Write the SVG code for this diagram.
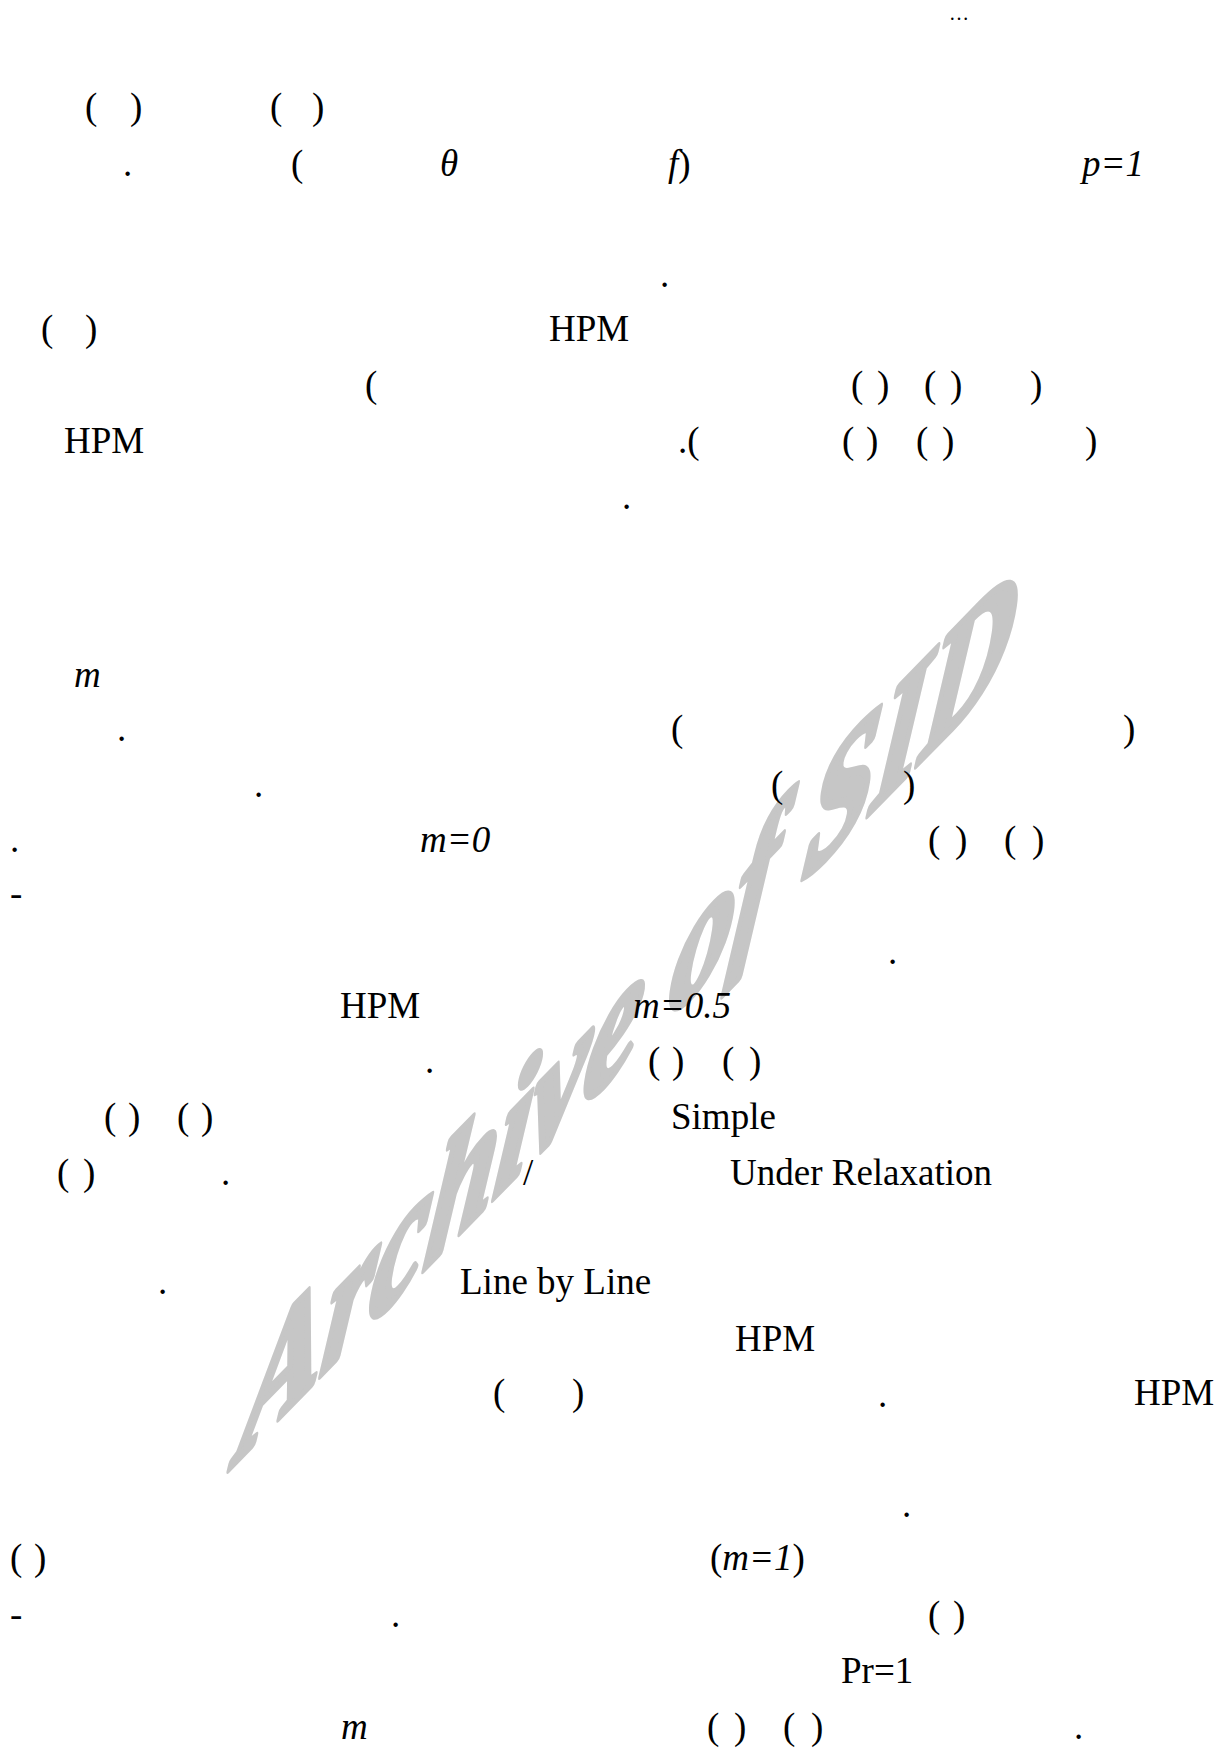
<svg xmlns="http://www.w3.org/2000/svg" width="1227" height="1748" viewBox="0 0 1227 1748">
<style>
text{font-family:"Liberation Serif","Times New Roman",serif;font-size:37px;fill:#000}
.i{font-style:italic}
.wm{font-family:"Liberation Serif","Times New Roman",serif;font-weight:bold;font-style:italic;font-size:100px;fill:#c6c6c6;stroke:#c6c6c6;stroke-width:5;stroke-linejoin:round}
</style>
<rect width="1227" height="1748" fill="#fff"/>
<g id="watermark">
<text class="wm" transform="matrix(1.24 -1.27 -0.24 1.72 236 1462)" x="0" y="0">Archive of SID</text>
</g>
<g id="page-text">
<text x="949" y="20" style="font-size:20px">…</text>
<text x="85 108 130" y="119">( )</text>
<text x="270 291 312" y="119">( )</text>
<text x="123" y="176">.</text>
<text x="291" y="176">(</text>
<text x="440" y="176" class="i">θ</text>
<text x="668" y="176"><tspan class="i">f</tspan>)</text>
<text x="1082" y="176" class="i">p=1</text>
<text x="660" y="287">.</text>
<text x="41 63 85" y="341">( )</text>
<text x="549" y="341">HPM</text>
<text x="365" y="397">(</text>
<text x="851 864 877" y="397">( )</text>
<text x="924 937 950" y="397">( )</text>
<text x="1030" y="397">)</text>
<text x="64" y="453">HPM</text>
<text x="678" y="453">.(</text>
<text x="842 854 866" y="453">( )</text>
<text x="916 929 942" y="453">( )</text>
<text x="1085" y="453">)</text>
<text x="622" y="509">.</text>
<text x="74" y="687" class="i">m</text>
<text x="117" y="741">.</text>
<text x="671" y="741">(</text>
<text x="1123" y="741">)</text>
<text x="254" y="797">.</text>
<text x="771" y="797">(</text>
<text x="903" y="797">)</text>
<text x="10" y="852">.</text>
<text x="420" y="852" class="i">m=0</text>
<text x="928 941 955" y="852">( )</text>
<text x="1004 1018 1032" y="852">( )</text>
<text x="10" y="906">-</text>
<text x="888" y="964">.</text>
<text x="340" y="1018">HPM</text>
<text x="633" y="1018" class="i">m=0.5</text>
<text x="425" y="1073">.</text>
<text x="648 660 672" y="1073">( )</text>
<text x="722 735 749" y="1073">( )</text>
<text x="104 116 128" y="1129">( )</text>
<text x="177 189 201" y="1129">( )</text>
<text x="671" y="1129">Simple</text>
<text x="57 70 83" y="1185">( )</text>
<text x="221" y="1185">.</text>
<text x="523" y="1185">/</text>
<text x="730" y="1185">Under Relaxation</text>
<text x="158" y="1294">.</text>
<text x="460" y="1294">Line by Line</text>
<text x="735" y="1351">HPM</text>
<text x="493 530 572" y="1405">( )</text>
<text x="878" y="1407">.</text>
<text x="1134" y="1405">HPM</text>
<text x="902" y="1517">.</text>
<text x="10 22 34" y="1570">( )</text>
<text x="710" y="1570">(<tspan class="i">m=1</tspan>)</text>
<text x="10" y="1627">-</text>
<text x="391" y="1627">.</text>
<text x="928 940 953" y="1627">( )</text>
<text x="841" y="1683">Pr=1</text>
<text x="341" y="1739" class="i">m</text>
<text x="707 720 734" y="1739">( )</text>
<text x="783 797 811" y="1739">( )</text>
<text x="1074" y="1739">.</text>
</g>
</svg>
